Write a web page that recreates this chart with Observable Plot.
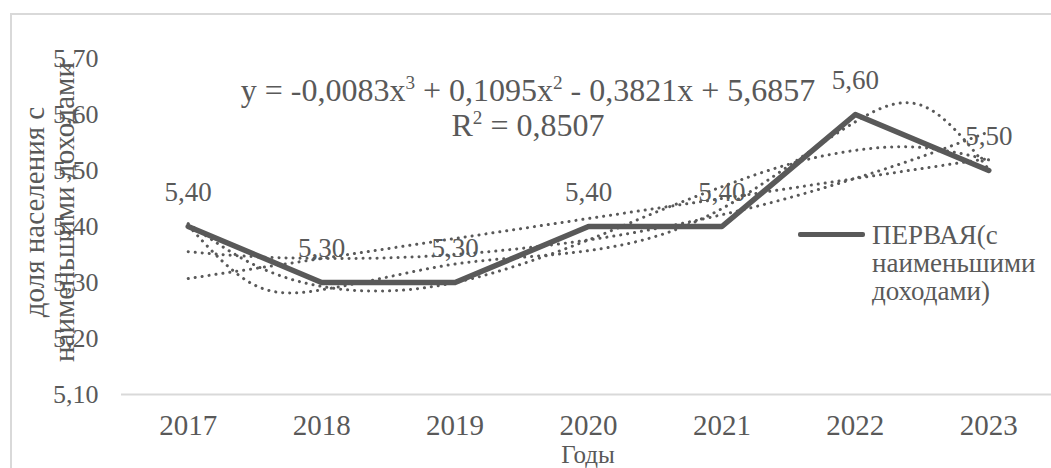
<!DOCTYPE html>
<html><head><meta charset="utf-8">
<script src="https://cdn.jsdelivr.net/npm/d3@7"></script>
<script src="https://cdn.jsdelivr.net/npm/@observablehq/plot@0.6"></script>
<style>
html,body{margin:0;padding:0;background:#fff;overflow:hidden;}
#wrap{position:relative;width:1051px;height:468px;overflow:hidden;font-family:"Liberation Serif","Times New Roman",serif;color:#595959;}
#frame{position:absolute;left:10px;top:13px;width:1200px;height:600px;border-left:2px solid #d9d9d9;border-top:2px solid #d9d9d9;}
#chart{position:absolute;left:0;top:0;}
.t{position:absolute;white-space:nowrap;line-height:1;}
sup{font-size:60%;vertical-align:0.65em;line-height:0;}
</style></head><body>
<div id="wrap">
  <div id="frame"></div>
  <div id="chart"></div>
  <div class="t" id="eq" style="left:528px;top:108px;transform:translate(-50%,-50%);font-size:32px;text-align:center;line-height:35px;">y = -0,0083x<sup>3</sup> + 0,1095x<sup>2</sup> - 0,3821x + 5,6857<br>R<sup>2</sup> = 0,8507</div>
  <div class="t" id="ytitle" style="left:49px;top:212px;transform:translate(-50%,-50%) rotate(-90deg);font-size:29px;text-align:center;line-height:30px;">доля населения с<br>наименьшими доходами</div>
  <div class="t" id="xtitle" style="left:588px;top:455px;transform:translate(-50%,-50%);font-size:25px;line-height:20px;">Годы</div>
  <div id="legline" style="position:absolute;left:798px;top:232px;width:67px;height:5px;background:#595959;border-radius:2px;"></div>
  <div class="t" id="legtext" style="left:872px;top:221px;font-size:27px;line-height:28px;">ПЕРВАЯ(с<br>наименьшими<br>доходами)</div>
</div>
<script>
// Categories and series values
const years = [2017, 2018, 2019, 2020, 2021, 2022, 2023];
const values = [5.40, 5.30, 5.30, 5.40, 5.40, 5.60, 5.50];
const yTicks = [5.10, 5.20, 5.30, 5.40, 5.50, 5.60, 5.70];
const seriesName = "ПЕРВАЯ(с наименьшими доходами)";

// Trendline readings (half-year steps)
const trendYears = [2017, 2017.5, 2018, 2018.5, 2019, 2019.5, 2020, 2020.5, 2021, 2021.5, 2022, 2022.5, 2023];
const trendPoly2 = [5.355, 5.346, 5.343, 5.344, 5.350, 5.361, 5.376, 5.396, 5.421, 5.451, 5.486, 5.525, 5.569];
const trendPoly3 = [5.405, 5.331, 5.293, 5.285, 5.300, 5.333, 5.376, 5.425, 5.471, 5.511, 5.536, 5.541, 5.519];
const trendPoly5 = [5.402, 5.295, 5.287, 5.310, 5.333, 5.345, 5.357, 5.382, 5.432, 5.508, 5.587, 5.616, 5.502];

const rows = years.map((year, i) => ({year, value: values[i], series: seriesName}));
const trends = [
  ...trendYears.map((year, i) => ({year, value: trendPoly2[i], kind: "poly2"})),
  ...trendYears.map((year, i) => ({year, value: trendPoly3[i], kind: "poly3"})),
  ...trendYears.map((year, i) => ({year, value: trendPoly5[i], kind: "poly5"}))
];

const grey = "#595959";
const fmt = v => v.toFixed(2).replace(".", ",");
const dotted = {stroke: grey, strokeWidth: 3, strokeDasharray: "0.1 6.9", strokeLinecap: "round"};

const chart = Plot.plot({
  width: 1051,
  height: 468,
  marginLeft: 121,
  marginRight: -4,
  marginTop: 58,
  marginBottom: 74,
  style: {fontFamily: '"Liberation Serif", "Times New Roman", serif', color: grey, background: "transparent", overflow: "visible"},
  x: {type: "linear", domain: [2016.5, 2023.5]},
  y: {domain: [5.10, 5.70]},
  marks: [
    Plot.ruleY([yTicks[0]], {stroke: "#d9d9d9", strokeWidth: 2}),
    Plot.axisY({ticks: yTicks, tickFormat: fmt, tickSize: 0, tickPadding: 23, fontSize: 26, label: null, fill: grey}),
    Plot.axisX({ticks: years, tickFormat: d => String(d), tickSize: 0, tickPadding: 20, fontSize: 29, label: null, fill: grey}),
    Plot.linearRegressionY(rows, {x: "year", y: "value", ci: 0, ...dotted}),
    Plot.line(trends, {x: "year", y: "value", z: "kind", curve: "natural", ...dotted}),
    Plot.line(rows, {x: "year", y: "value", stroke: grey, strokeWidth: 5.5, strokeLinejoin: "round", strokeLinecap: "round"}),
    Plot.text(rows, {x: "year", y: "value", text: d => fmt(d.value), dy: -34, fontSize: 27, fill: grey})
  ]
});
document.getElementById("chart").appendChild(chart);
</script>
</body></html>
